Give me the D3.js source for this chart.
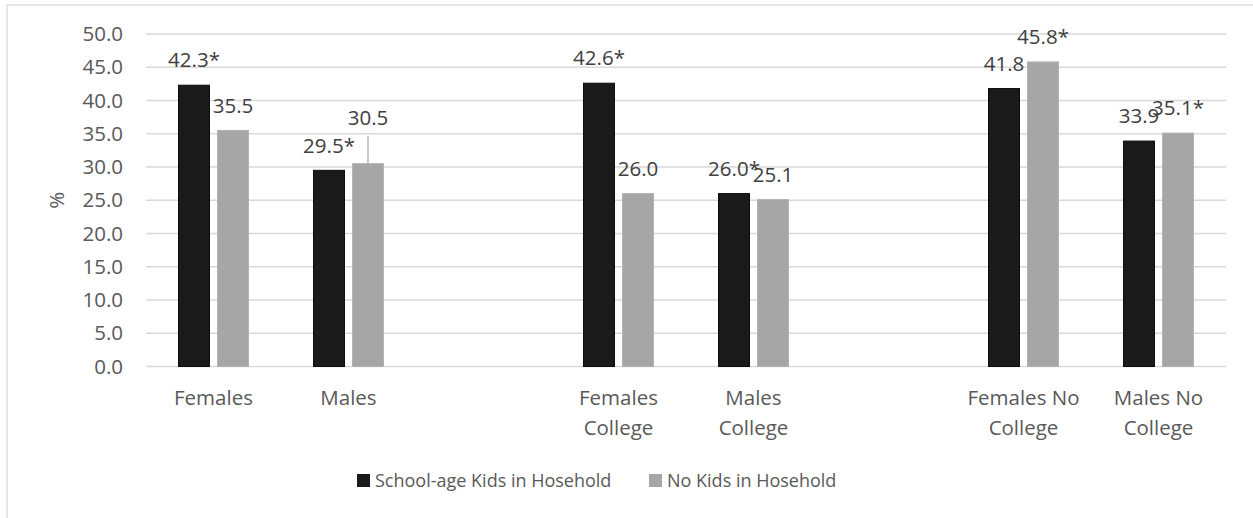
<!DOCTYPE html>
<html>
<head>
<meta charset="utf-8">
<script src="https://d3js.org/d3.v7.min.js"></script>
<style>
  body { margin: 0; background: #fff; }
  text { font-family: "Open Sans", sans-serif; }
</style>
</head>
<body>
<script>
// categories (empty strings are the spacer slots in the original)
var categories = ["Females", "Males", "", "Females College", "Males College", "", "Females No College", "Males No College"];
var xLines = [["Females"], ["Males"], [], ["Females", "College"], ["Males", "College"], [], ["Females No", "College"], ["Males No", "College"]];
var series = ["School-age Kids in Hosehold", "No Kids in Hosehold"];
var withKids = [42.3, 29.5, null, 42.6, 26.0, null, 41.8, 33.9];
var noKids = [35.5, 30.5, null, 26.0, 25.1, null, 45.8, 35.1];
var withKidsLabels = ["42.3*", "29.5*", "", "42.6*", "26.0*", "", "41.8", "33.9"];
var noKidsLabels = ["35.5", "30.5", "", "26.0", "25.1", "", "45.8*", "35.1*"];
var yTicks = [0, 5, 10, 15, 20, 25, 30, 35, 40, 45, 50];

var width = 1253, height = 518;
var margin = {top: 34, right: 27, bottom: 151.5, left: 146};
var colors = ["#1a1a1a", "#a6a6a6"];
var strokes = ["#0d0d0d", "#b3b3b3"];
var fs = "20.5px";

var svg = d3.select("body").append("svg")
    .attr("width", width)
    .attr("height", height);

// chart frame
svg.append("rect")
    .attr("x", 7).attr("y", 5)
    .attr("width", width + 20).attr("height", height + 20)
    .attr("fill", "none").attr("stroke", "#d9d9d9").attr("stroke-width", 1.3);

var x = d3.scaleBand()
    .domain(d3.range(categories.length))
    .range([margin.left, width - margin.right]);

var y = d3.scaleLinear()
    .domain([0, 50])
    .range([height - margin.bottom, margin.top]);

// grid
svg.append("g").selectAll("line")
    .data(yTicks)
  .enter().append("line")
    .attr("x1", margin.left).attr("x2", width - margin.right)
    .attr("y1", d => y(d)).attr("y2", d => y(d))
    .attr("stroke", "#d9d9d9").attr("stroke-width", 1.4);

// y axis labels
var yAxis = svg.append("g")
    .attr("transform", "translate(" + (margin.left - 23) + ",0)")
    .call(d3.axisLeft(y).tickValues(yTicks).tickFormat(d3.format(".1f")).tickSize(0).tickPadding(0));
yAxis.select(".domain").remove();
yAxis.selectAll("text")
    .attr("fill", "#595959")
    .style("font-size", fs)
    .style("font-family", "'Open Sans', sans-serif");

svg.append("text")
    .attr("transform", "translate(57," + ((y(0) + y(50)) / 2) + ") rotate(-90)")
    .attr("text-anchor", "middle")
    .attr("dy", "0.35em")
    .attr("fill", "#595959")
    .style("font-size", fs)
    .text("%");

// x labels
var xl = svg.append("g").selectAll("text")
    .data(xLines)
  .enter().append("text")
    .attr("x", (d, i) => x(i) + x.bandwidth() / 2)
    .attr("y", 398)
    .attr("text-anchor", "middle")
    .attr("fill", "#595959")
    .style("font-size", fs);
xl.selectAll("tspan")
    .data(d => d)
  .enter().append("tspan")
    .attr("x", function() { return this.parentNode.getAttribute("x"); })
    .attr("dy", (d, i) => i === 0 ? "0.35em" : 30)
    .text(d => d);

// bars
var barW = 31, inner = 4;
var seriesData = [withKids, noKids];
var seriesLabels = [withKidsLabels, noKidsLabels];
var offsets = [-inner - barW, inner];

seriesData.forEach(function(vals, s) {
    var pts = vals.map((v, i) => ({v: v, i: i, label: seriesLabels[s][i]})).filter(d => d.v !== null);
    var g = svg.append("g");
    g.selectAll("rect")
        .data(pts)
      .enter().append("rect")
        .attr("x", d => x(d.i) + x.bandwidth() / 2 + offsets[s])
        .attr("y", d => y(d.v))
        .attr("width", barW)
        .attr("height", d => y(0) - y(d.v))
        .attr("fill", colors[s])
        .attr("stroke", strokes[s])
        .attr("stroke-width", 1);

    g.selectAll("text")
        .data(pts)
      .enter().append("text")
        .attr("x", d => x(d.i) + x.bandwidth() / 2 + offsets[s] + barW / 2)
        .attr("y", d => y(d.v) - 25 - (s === 1 && d.i === 1 ? 21 : 0))
        .attr("dy", "0.35em")
        .attr("text-anchor", "middle")
        .attr("fill", "#404040")
        .style("font-size", fs)
        .text(d => d.label);

    // leader line for the moved label
    pts.filter(d => s === 1 && d.i === 1).forEach(function(d) {
        var cx = x(d.i) + x.bandwidth() / 2 + offsets[s] + barW / 2;
        g.append("line")
            .attr("x1", cx).attr("x2", cx)
            .attr("y1", y(d.v) - 28).attr("y2", y(d.v))
            .attr("stroke", "#a6a6a6").attr("stroke-width", 1.2);
    });
});

// legend
var legend = svg.append("g");
var legX = [357, 649];
series.forEach(function(name, s) {
    legend.append("rect")
        .attr("x", legX[s]).attr("y", 474)
        .attr("width", 13).attr("height", 13)
        .attr("fill", colors[s]);
    legend.append("text")
        .attr("x", legX[s] + 18).attr("y", 480.5)
        .attr("dy", "0.35em")
        .attr("fill", "#595959")
        .style("font-size", "18px")
        .text(name);
});
</script>
</body>
</html>
